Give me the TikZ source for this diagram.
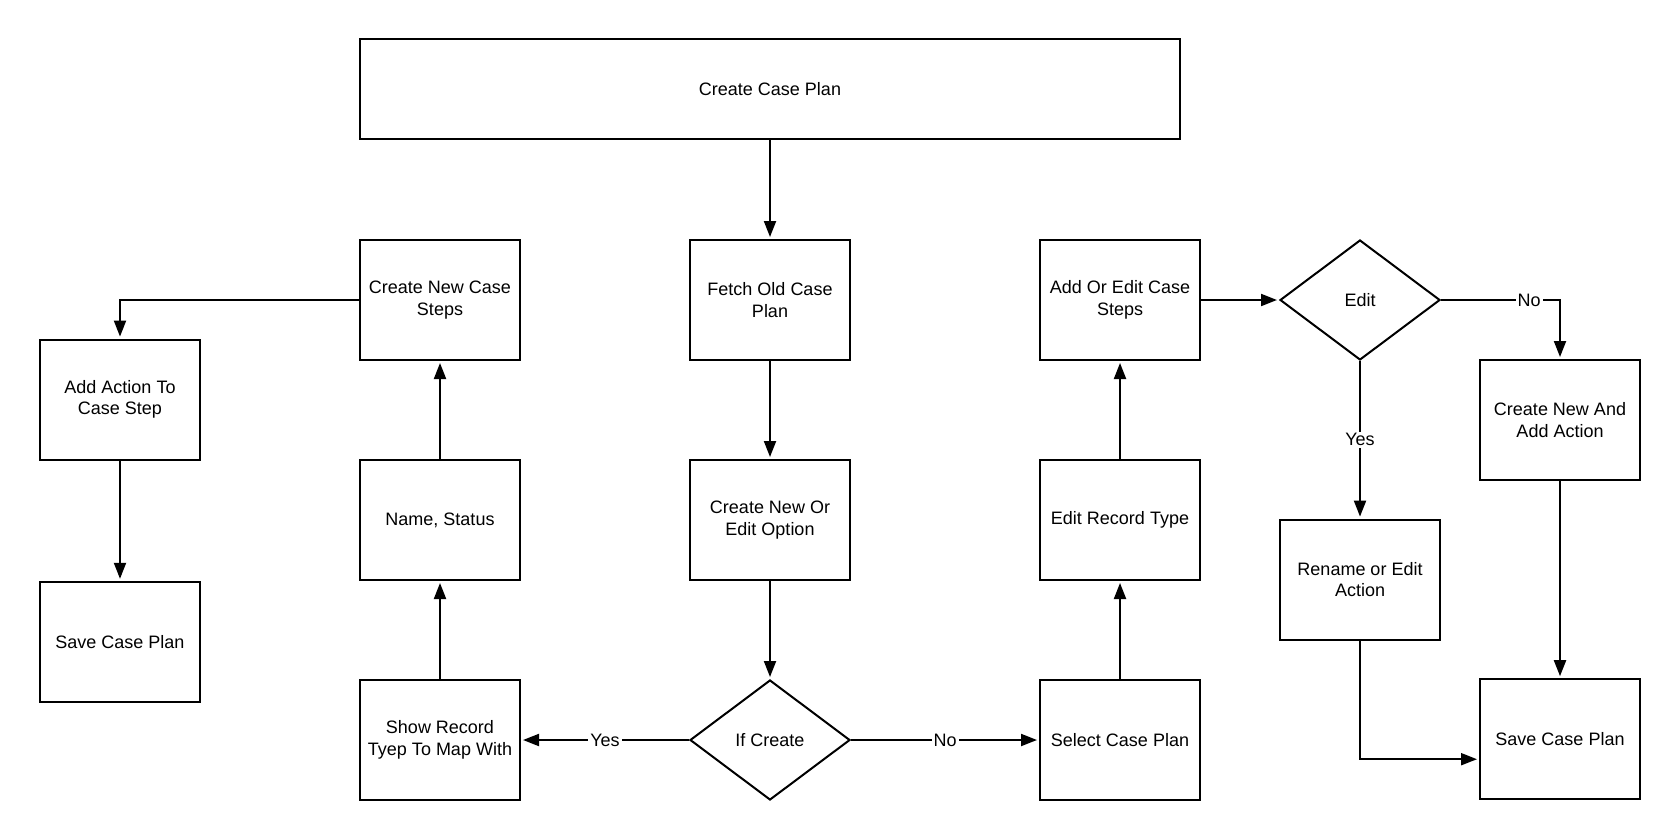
\documentclass[tikz,border=0pt]{standalone}
\usepackage{fontspec}
\setmainfont{Liberation Sans}
\usetikzlibrary{positioning,shapes.geometric,arrows.meta}

\begin{document}
\begin{tikzpicture}[on grid, line width=1pt, font=\fontsize{9}{10.7}\selectfont]
\tikzstyle{stage} = [rectangle, draw=black, text centered, align=center, minimum width=80pt, minimum height=60pt, inner sep=1pt]
\tikzstyle{choice} = [diamond, draw=black, text centered, aspect=1.333, minimum width=80pt, minimum height=60pt, inner sep=0pt]
\tikzstyle{arrow} = [-{Triangle[length=8pt,width=6pt]}, shorten >=1pt]
\tikzstyle{answer} = [fill=white, inner sep=1pt]

\useasboundingbox (0,0) rectangle (840pt,-420pt);

\node (CreateCasePlan) [stage, minimum width=410pt, minimum height=50pt] at (385pt,-44.7pt) {Create Case Plan};
\node (FetchOldCasePlan) [stage, below=105.3pt of CreateCasePlan] {Fetch Old Case\\Plan};
\node (CreateNewOrEdit) [stage, below=110pt of FetchOldCasePlan] {Create New Or\\Edit Option};
\node (IfCreate) [choice, below=110pt of CreateNewOrEdit] {If Create};

\node (ShowRecordType) [stage, left=165pt of IfCreate] {Show Record\\Tyep To Map With};
\node (NameStatus) [stage, above=110pt of ShowRecordType] {Name, Status};
\node (CreateNewCaseSteps) [stage, above=110pt of NameStatus] {Create New Case\\Steps};
\node (AddActionToCaseStep) [stage, below left=49.8pt and 160pt of CreateNewCaseSteps] {Add Action To\\Case Step};
\node (SaveCasePlanLeft) [stage, below=121.1pt of AddActionToCaseStep] {Save Case Plan};

\node (SelectCasePlan) [stage, right=175pt of IfCreate] {Select Case Plan};
\node (EditRecordType) [stage, above=110pt of SelectCasePlan] {Edit Record Type};
\node (AddOrEditCaseSteps) [stage, above=110pt of EditRecordType] {Add Or Edit Case\\Steps};
\node (Edit) [choice, right=120pt of AddOrEditCaseSteps] {Edit};
\node (RenameOrEditAction) [stage, below=139.8pt of Edit] {Rename or Edit\\Action};
\node (CreateNewAndAddAction) [stage, below right=60pt and 100pt of Edit] {Create New And\\Add Action};
\node (SaveCasePlanRight) [stage, below=159.6pt of CreateNewAndAddAction] {Save Case Plan};

\draw [arrow] (CreateCasePlan) -- (FetchOldCasePlan);
\draw [arrow] (FetchOldCasePlan) -- (CreateNewOrEdit);
\draw [arrow] (CreateNewOrEdit) -- (IfCreate);
\draw [arrow] (IfCreate) -- node[answer] {Yes} (ShowRecordType);
\draw [arrow] (IfCreate) -- node[answer] {No} (SelectCasePlan);

\draw [arrow] (ShowRecordType) -- (NameStatus);
\draw [arrow] (NameStatus) -- (CreateNewCaseSteps);
\draw [arrow] (CreateNewCaseSteps.west) -| (AddActionToCaseStep.north);
\draw [arrow] (AddActionToCaseStep) -- (SaveCasePlanLeft);

\draw [arrow] (SelectCasePlan) -- (EditRecordType);
\draw [arrow] (EditRecordType) -- (AddOrEditCaseSteps);
\draw [arrow] (AddOrEditCaseSteps) -- (Edit);
\draw [arrow] (Edit.east) -| node[answer, pos=0.37] {No} (CreateNewAndAddAction.north);
\draw [arrow] (Edit.south) -- node[answer] {Yes} (RenameOrEditAction.north);
\draw [arrow] (CreateNewAndAddAction) -- (SaveCasePlanRight);
\draw [arrow] (RenameOrEditAction.south) |- ([yshift=-10pt]SaveCasePlanRight.west);

\end{tikzpicture}
\end{document}
